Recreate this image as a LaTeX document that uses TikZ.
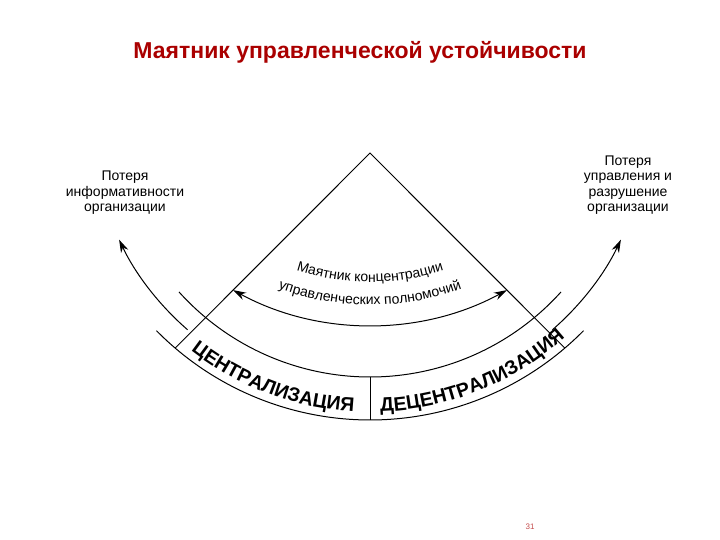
\documentclass[tikz,border=0pt]{standalone}
\usepackage{fontspec}
\setmainfont{Liberation Sans}
\usetikzlibrary{arrows.meta,decorations.text,calc}
\definecolor{titlered}{RGB}{170,0,0}
\begin{document}
\begin{tikzpicture}[x=1pt,y=1pt,
  ln/.style={line width=1pt,black},
  arr/.style={line width=1pt,-{Stealth[length=13pt,width=8pt]}},
  lbl/.style={font=\fontsize{14}{15.5}\selectfont,align=center}]
\useasboundingbox (0,0) rectangle (720,540);
\coordinate (C) at (370,420);
\coordinate (P) at (370,501);
\node[font=\fontsize{23}{26}\selectfont\bfseries,text=titlered] (title) at (360,488) {Маятник управленческой устойчивости};
\node[lbl] (lt) at (125,347) {Потеря\\информативности\\организации};
\node[lbl] (rt) at (628,355) {Потеря\\управления и\\разрушение\\организации};
\node[font=\fontsize{8}{9}\selectfont,text=titlered!70] (pg) at (530,13) {31};
% triangle
\coordinate (apex) at (370,387);
\coordinate (bl) at ($(C)+(229.5:300)$);
\coordinate (br) at ($(C)+(310.5:300)$);
\draw[ln] (bl) -- (apex) -- (br);
% band arcs
\draw[ln] ($(C)+(224.6:300)$) arc[start angle=224.6,end angle=315.4,radius=300];
\draw[ln] ($(C)+(222:257)$) arc[start angle=222,end angle=318,radius=257];
\draw[ln] ($(C)+(270:257)$) coordinate (d1) -- ($(C)+(270:300)$) coordinate (d2);
% side arrows
\draw[arr] ($(C)+(229:278)$) arc[start angle=229,end angle=205.5,radius=278];
\draw[arr] ($(C)+(311:278)$) arc[start angle=311,end angle=334.5,radius=278];
% pendulum arrow
\draw[line width=1pt,{Stealth[length=13pt,width=8pt]}-{Stealth[length=13pt,width=8pt]}] ($(P)+(241.4:286)$) arc[start angle=241.4,end angle=298.6,radius=286];
% pendulum text
\path[decorate,decoration={text along path,text align=center,
  text={|\fontsize{14}{15}\selectfont|Маятник концентрации}}]
  ($(P)+(245:243)$) arc[start angle=245,end angle=295,radius=243];
\path[decorate,decoration={text along path,text align=center,
  text={|\fontsize{14}{15}\selectfont|управленческих  полномочий}}]
  ($(P)+(244:266)$) arc[start angle=244,end angle=296,radius=266];
% band text
\path[decorate,decoration={text along path,text align=center,
  text={|\fontsize{19.5}{21}\selectfont\bfseries|ЦЕНТРАЛИЗАЦИЯ}}]
  ($(C)+(230:292)$) arc[start angle=230,end angle=269,radius=292];
\path[decorate,decoration={text along path,text align=center,
  text={|\fontsize{19.5}{21}\selectfont\bfseries|ДЕЦЕНТРАЛИЗАЦИЯ}}]
  ($(C)+(271:292)$) arc[start angle=271,end angle=313,radius=292];
\end{tikzpicture}
\end{document}
